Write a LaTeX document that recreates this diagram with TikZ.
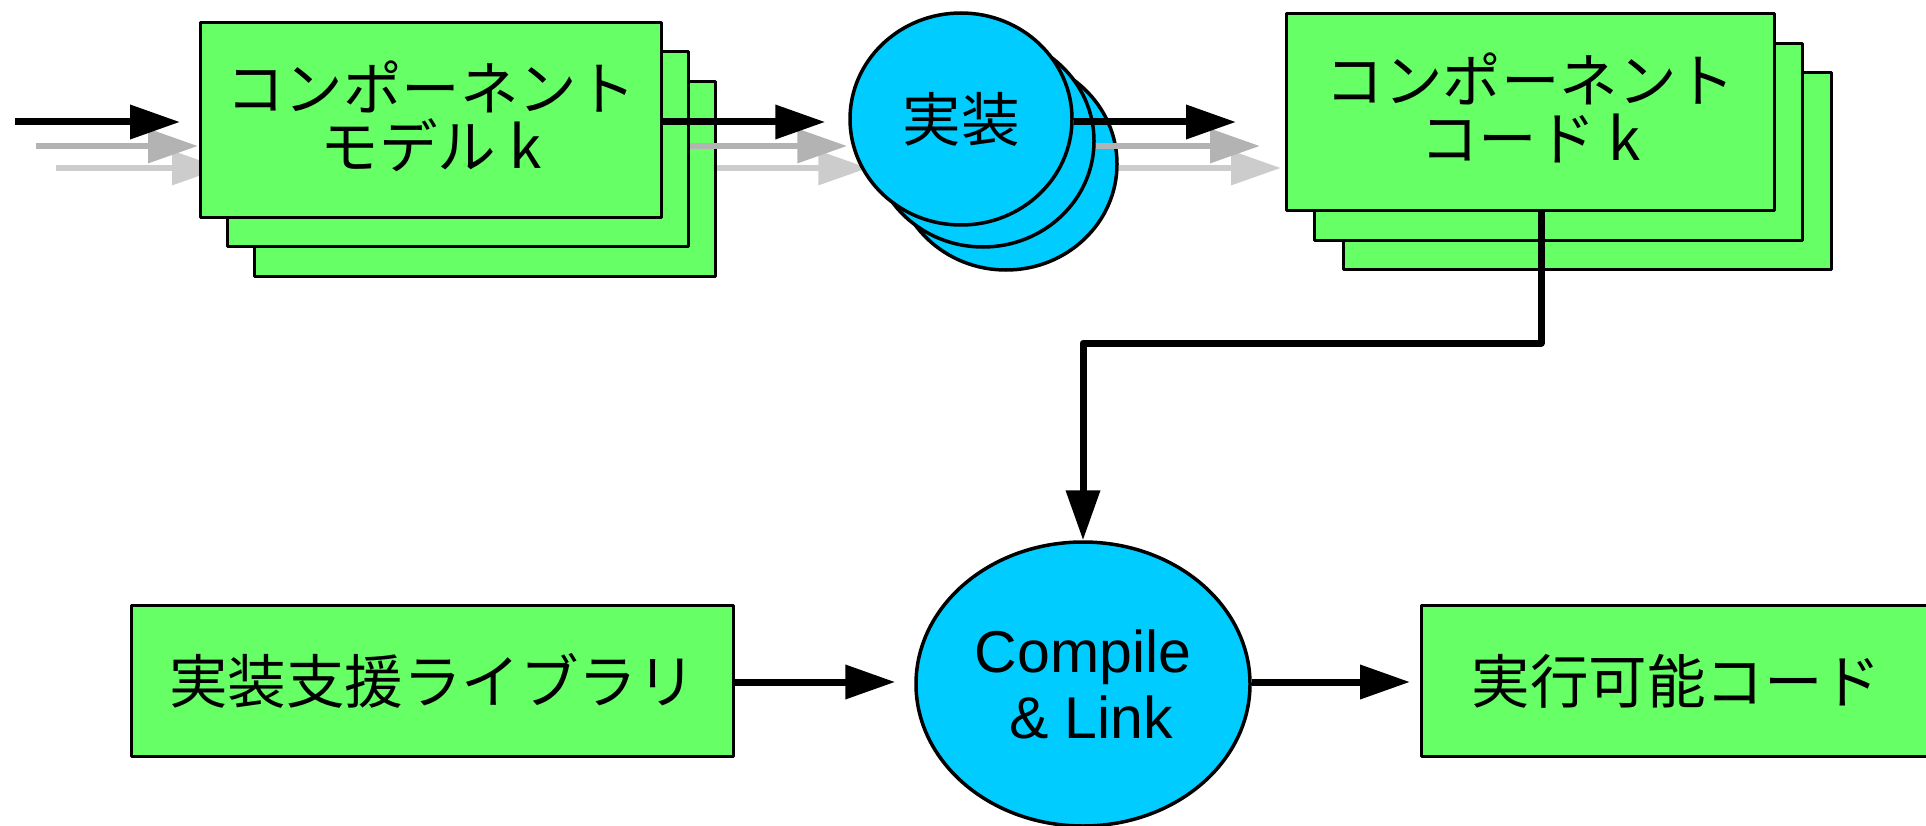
\documentclass[tikz,border=0pt]{standalone}
\usepackage{fontspec}
\setmainfont{Liberation Sans}
\newfontfamily\cjk{Noto Sans CJK JP}
\usetikzlibrary{arrows.meta,shapes.geometric,calc}
\definecolor{boxgreen}{HTML}{66FF66}
\definecolor{proccyan}{HTML}{00CCFF}
\definecolor{arrgray}{HTML}{B3B3B3}
\definecolor{arrlight}{HTML}{CCCCCC}
\pgfdeclarelayer{lzero}
\pgfdeclarelayer{lone}
\pgfdeclarelayer{ltwo}
\pgfsetlayers{lzero,lone,ltwo,main}
\tikzset{
  jpfont/.style={font=\cjk\fontsize{58.5}{63}\selectfont},
  gbox/.style={draw=black, line width=3pt, fill=boxgreen, rectangle, inner sep=0pt,
    anchor=north west, line join=round, align=center, jpfont},
  txt/.style={jpfont, align=center, inner sep=0pt},
  proc/.style={draw=black, line width=3.5pt, fill=proccyan, ellipse, inner sep=0pt, align=center},
  tipstyle/.style={-{Triangle[length=50pt,width=33pt]}},
  arrK/.style={tipstyle, line width=7pt, color=black},
  arrG/.style={tipstyle, line width=6.5pt, color=arrgray},
  arrL/.style={tipstyle, line width=6.5pt, color=arrlight},
}
\begin{document}
\begin{tikzpicture}[x=1pt,y=-1pt]
\useasboundingbox (0,0) rectangle (1926,826);
\clip (0,0) rectangle (1926,826);

% component model stack
\begin{pgfonlayer}{lone}
\node[gbox, minimum width=461pt, minimum height=195pt] (M3) at (253,80) {};
\node[gbox, minimum width=461pt, minimum height=195pt] (M2) at (226,50) {};
\node[gbox, minimum width=461pt, minimum height=195pt] (M1) at (199,21) {};
\node[txt] (M1t) at ([yshift=4pt]M1.center) {コンポーネント\\[-5pt]モデル k};
\end{pgfonlayer}

% input arrows
\coordinate (inA) at (15,122);
\coordinate (inB) at (36,146);
\coordinate (inC) at (56,168);
\begin{pgfonlayer}{lzero}
\draw[arrL] (inC) -- ([xshift=23pt]inC -| M1.west);
\draw[arrG] (inB) -- ([xshift=-1pt]inB -| M1.west);
\draw[arrK] (inA) -- ([xshift=-19pt]inA -| M1.west);
\end{pgfonlayer}

% implementation ellipses
\node[proc, minimum width=222pt, minimum height=212pt] (E3) at (1006,164) {};
\node[proc, minimum width=222pt, minimum height=212pt] (E2) at (983,141) {};
\node[proc, minimum width=222pt, minimum height=212pt, jpfont] (E1) at (961,119) {実装};

% middle arrows
\begin{pgfonlayer}{ltwo}
\draw[arrL] (M3.east |- inC) -- ([xshift=-25pt]E3.west |- inC);
\draw[arrG] (M2.east |- inB) -- ([xshift=-23pt]E2.west |- inB);
\draw[arrK] (M1.east |- inA) -- ([xshift=-23pt]E1.west |- inA);
\end{pgfonlayer}

% component code stack
\node[gbox, minimum width=488pt, minimum height=197pt] (C3) at (1342,71) {};
\node[gbox, minimum width=488pt, minimum height=197pt] (C2) at (1313,42) {};
\node[gbox, minimum width=488pt, minimum height=197pt] (C1) at (1285,12) {};
\node[txt] (C1t) at ([yshift=4pt]C1.center) {コンポーネント\\[-5pt]コード k};

% right arrows
\draw[arrL] (E3.east |- inC) -- ([xshift=-4pt]C1.west |- inC);
\draw[arrG] (E2.east |- inB) -- ([xshift=-25pt]C1.west |- inB);
\draw[arrK] (E1.east |- inA) -- ([xshift=-49pt]C1.west |- inA);

% bottom row
\node[gbox, minimum width=602pt, minimum height=151pt] (LB) at (130,604) {実装支援ライブラリ};
\node[proc, minimum width=334pt, minimum height=284pt, font=\fontsize{59}{66}\selectfont] (CL) at (1083,684) {Compile\\\ \& Link};
\node[gbox, minimum width=510pt, minimum height=151pt] (EX) at (1420,604) {実行可能コード};

% connectors
\draw[arrK, line join=round] ([xshift=10.5pt]C1.south) -- ++(0,131) -| (CL.north);
\draw[arrK] (LB.east |- 0,682) -- ([xshift=-19pt]CL.west |- 0,682);
\draw[arrK] (CL.east |- 0,682) -- ([xshift=-10pt]EX.west |- 0,682);
\end{tikzpicture}
\end{document}
